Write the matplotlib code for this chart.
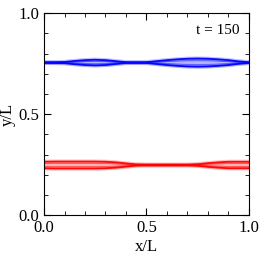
import matplotlib
matplotlib.use("Agg")
import matplotlib.pyplot as plt
import numpy as np
from matplotlib.ticker import MultipleLocator

# Sampled x positions (x/L)
x_pos = [0.0, 0.05, 0.1, 0.15, 0.2, 0.25, 0.3, 0.35, 0.4, 0.45, 0.5,
         0.55, 0.6, 0.65, 0.7, 0.75, 0.8, 0.85, 0.9, 0.95, 1.0]
# Blue filament: centre line and half-thickness
blue_center = [0.755] * 21
blue_half = [0.002, 0.002, 0.003, 0.008, 0.012, 0.014, 0.012, 0.007, 0.002, 0.002, 0.002,
             0.007, 0.012, 0.016, 0.019, 0.020, 0.019, 0.016, 0.012, 0.006, 0.002]
# Red filament: centre line and half-thickness
red_center = [0.248] * 21
red_half = [0.016, 0.017, 0.017, 0.017, 0.017, 0.017, 0.016, 0.013, 0.008, 0.003, 0.002,
            0.002, 0.002, 0.002, 0.002, 0.004, 0.009, 0.013, 0.016, 0.016, 0.016]
time_label = "t = 150"

plt.rcParams['font.family'] = ['Liberation Serif', 'DejaVu Serif']

fig = plt.figure(figsize=(2.62, 2.62), dpi=100)
ax = fig.add_axes([0.168, 0.179, 0.782, 0.771])

def draw_band(ax, xs, cen, half, color, light):
    xs = np.asarray(xs); cen = np.asarray(cen); half = np.asarray(half)
    up = cen + half
    lo = cen - half
    ax.fill_between(xs, lo - 0.007, up + 0.007, color=light, alpha=0.25, lw=0)
    ax.fill_between(xs, lo, up, color=light, alpha=0.55, lw=0)
    for yy in (up, lo):
        ax.plot(xs, yy, color=color, lw=3.0, alpha=0.25)
        ax.plot(xs, yy, color=color, lw=1.3, alpha=0.95)
    ax.plot(xs, cen + 0.45 * half, color=color, lw=0.6, alpha=0.45)
    ax.plot(xs, cen - 0.45 * half, color=color, lw=0.6, alpha=0.45)

draw_band(ax, x_pos, blue_center, blue_half, '#0000ff', '#9090ff')
draw_band(ax, x_pos, red_center, red_half, '#ff0000', '#ff9090')

ax.set_xlim(0, 1)
ax.set_ylim(0, 1)
ax.set_xticks([0.0, 0.5, 1.0])
ax.set_yticks([0.0, 0.5, 1.0])
ax.xaxis.set_minor_locator(MultipleLocator(0.1))
ax.yaxis.set_minor_locator(MultipleLocator(0.1))
ax.tick_params(which='both', direction='in', top=True, right=True, labelsize=12)
ax.tick_params(which='major', length=5, width=0.8)
ax.tick_params(which='minor', length=3, width=0.6)
ax.set_xticklabels(['0.0', '0.5', '1.0'])
ax.set_yticklabels(['0.0', '0.5', '1.0'])
ax.set_xlabel('x/L', fontsize=12, labelpad=2)
ax.set_ylabel('y/L', fontsize=12, labelpad=2)
ax.text(0.956, 0.915, time_label, transform=ax.transAxes, ha='right', va='center', fontsize=11)

fig.savefig('out.png', dpi=100)
